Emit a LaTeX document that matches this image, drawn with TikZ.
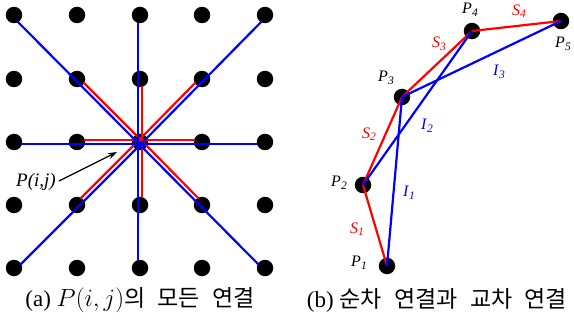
\documentclass[tikz,border=0pt]{standalone}
\usepackage{fontspec}
\setmainfont{Liberation Serif}
\newfontfamily\krfont[WordSpace={2.4}]{Noto Sans CJK KR}
\usetikzlibrary{arrows.meta}
\newcommand{\plab}[2]{\textit{#1}\raisebox{-0.35ex}{\fontsize{11.5}{11.5}\selectfont\textit{#2}}}
\begin{document}
\begin{tikzpicture}[x=1pt,y=-1pt,
  dot/.style={circle,fill=black,inner sep=0pt,minimum size=16.5pt},
  redl/.style={draw=red,line width=2.2pt},
  bluel/.style={draw=blue,line width=2.2pt},
  lab/.style={font=\fontsize{16}{16}\selectfont,inner sep=0pt},
  captext/.style={font=\fontsize{23}{23}\selectfont,inner sep=0pt}]
\useasboundingbox (0,0) rectangle (574,321);
% ---------- (a) grid ----------
\foreach \i/\x in {0/14,1/77,2/140,3/202,4/265}
  \foreach \j/\y in {0/15,1/79,2/142,3/205,4/268}
    \node[dot] (g\i\j) at (\x,\y) {};
% red: inner ring to center
\draw[redl,shorten <=7pt,transform canvas={shift={(2,0)}}] (g21.center) -- (g22.center);
\draw[redl,shorten <=7pt,transform canvas={shift={(2,0)}}] (g23.center) -- (g22.center);
\draw[redl,shorten <=7pt,transform canvas={shift={(0,-2)}}] (g12.center) -- (g22.center);
\draw[redl,shorten <=7pt,transform canvas={shift={(0,-2)}}] (g32.center) -- (g22.center);
\draw[redl,shorten <=7pt,transform canvas={shift={(1.5,-1.5)}}] (g11.center) -- (g22.center);
\draw[redl,shorten <=7pt,transform canvas={shift={(1.5,-1.5)}}] (g33.center) -- (g22.center);
\draw[redl,shorten <=7pt,transform canvas={shift={(-1.5,-1.5)}}] (g31.center) -- (g22.center);
\draw[redl,shorten <=7pt,transform canvas={shift={(-1.5,-1.5)}}] (g13.center) -- (g22.center);
% blue: center to outer ring
\draw[bluel,shorten >=8pt,transform canvas={shift={(-2,0)}}] (g22.center) -- (g20.center);
\draw[bluel,shorten >=8pt,transform canvas={shift={(-2,0)}}] (g22.center) -- (g24.center);
\draw[bluel,shorten >=7pt,transform canvas={shift={(0,2)}}] (g22.center) -- (g02.center);
\draw[bluel,shorten >=7pt,transform canvas={shift={(0,2)}}] (g22.center) -- (g42.center);
\draw[bluel,shorten >=7pt,transform canvas={shift={(-1.5,1.5)}}] (g22.center) -- (g00.center);
\draw[bluel,shorten >=7pt,transform canvas={shift={(-1.5,1.5)}}] (g22.center) -- (g44.center);
\draw[bluel,shorten >=7pt,transform canvas={shift={(1.5,1.5)}}] (g22.center) -- (g40.center);
\draw[bluel,shorten >=7pt,transform canvas={shift={(1.5,1.5)}}] (g22.center) -- (g04.center);
% label and arrow
\node[inner sep=0pt,font=\fontsize{19}{19}\selectfont\itshape] (pij) at (36,182) {P(i,j)};
\coordinate (arrtip) at (117,152);
\draw[line width=1.2pt,-{Stealth[length=9pt,width=6pt]}] ([xshift=3pt,yshift=1pt]pij.east) -- (arrtip);
% ---------- (b) ----------
\node[dot] (p1) at (387,266) {};
\node[dot] (p2) at (363,185) {};
\node[dot] (p3) at (402,97) {};
\node[dot] (p4) at (472,31) {};
\node[dot] (p5) at (561,21) {};
\draw[redl] (p1.center) -- (p2.center);
\draw[redl] (p2.center) -- (p3.center);
\draw[redl] (p3.center) -- (p4.center);
\draw[redl] (p4.center) -- (p5.center);
\draw[bluel] (p1.center) -- (p3.center);
\draw[bluel] (p2.center) -- (p4.center);
\draw[bluel] (p3.center) -- (p5.center);
\node[lab] (l1) at (359,263) {\plab{P}{1}};
\node[lab] (l2) at (339,183) {\plab{P}{2}};
\node[lab] (l3) at (386,78) {\plab{P}{3}};
\node[lab] (l4) at (470,10) {\plab{P}{4}};
\node[lab] (l5) at (563,44) {\plab{P}{5}};
\node[lab,text=red] (s1) at (357,229) {\plab{S}{1}};
\node[lab,text=red] (s2) at (369,134) {\plab{S}{2}};
\node[lab,text=red] (s3) at (439,44) {\plab{S}{3}};
\node[lab,text=red] (s4) at (519,11) {\plab{S}{4}};
\node[lab,text=blue] (i1) at (409,193) {\plab{I}{1}};
\node[lab,text=blue] (i2) at (427,126) {\plab{I}{2}};
\node[lab,text=blue] (i3) at (499,72) {\plab{I}{3}};
% ---------- captions ----------
\node[captext] (capa) at (140,300) {(a) $P(i,j)${\krfont 의 모든 연결}};
\node[captext] (capb) at (437,300) {(b) {\krfont 순차 연결과 교차 연결}};
\end{tikzpicture}
\end{document}
